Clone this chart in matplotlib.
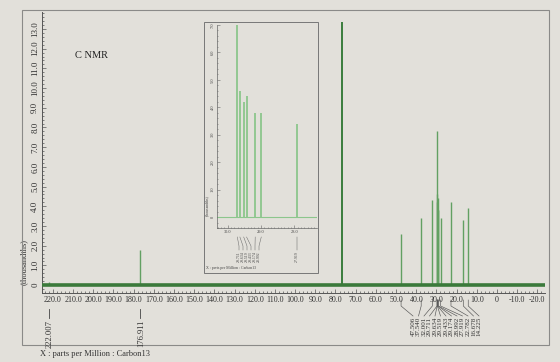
import numpy as np
import matplotlib
matplotlib.use("Agg")
import matplotlib.pyplot as plt
from matplotlib.ticker import MultipleLocator, FuncFormatter
from matplotlib.patches import Rectangle
from matplotlib.lines import Line2D

# peak list (ppm) and heights (thousandths)
ppm = [222.007, 176.911, 77.0, 47.506, 37.540, 32.001, 29.711, 29.634, 29.519,
       29.433, 29.174, 28.992, 27.919, 22.782, 16.678, 14.225]
height = [0.15, 1.8, 13.35, 2.6, 3.4, 4.3, 7.8, 4.6, 4.2,
          4.4, 3.8, 3.8, 3.4, 4.2, 3.3, 3.9]

left_labels = ["222.007", "176.911"]
right_labels = ["47.506", "37.540", "32.001", "29.711", "29.634", "29.519", "29.433",
                "29.174", "28.992", "27.919", "22.782", "16.678", "14.225"]
inset_labels = ["29.711", "29.634", "29.519", "29.433", "29.174", "28.992", "27.919"]

W, H = 560, 362
page = "#e2e0da"
serif = ["Liberation Serif", "DejaVu Serif"]
plt.rcParams['font.family'] = serif

fig = plt.figure(figsize=(W / 100, H / 100), dpi=100, facecolor=page)


def fx(x):
    return x / W


def fy(y):
    return 1 - y / H


# outer frame
fig.patches.append(Rectangle((fx(22), fy(345)), fx(549) - fx(22), fy(10) - fy(345),
                             transform=fig.transFigure, fill=False, ec="#8a8a88", lw=0.8))

ax = fig.add_axes([fx(42), fy(293), fx(545) - fx(42), fy(12) - fy(293)])
ax.set_facecolor(page)

ax.axhline(0, color="#3b7a3b", lw=2.6, zorder=3)
big = [i for i in range(len(ppm)) if height[i] > 10]
small = [i for i in range(len(ppm)) if height[i] <= 10]
ax.vlines([ppm[i] for i in small], 0, [height[i] for i in small], color="#62a062", lw=1.0)
ax.vlines([ppm[i] for i in big], 0, [height[i] for i in big], color="#3a7d3c", lw=1.4)

for s in ["top", "right"]:
    ax.spines[s].set_visible(False)
for s in ["left", "bottom"]:
    ax.spines[s].set_color("#555")
    ax.spines[s].set_linewidth(0.7)

ax.xaxis.set_major_locator(MultipleLocator(10))
ax.xaxis.set_minor_locator(MultipleLocator(2))
ax.yaxis.set_major_locator(MultipleLocator(1))
ax.yaxis.set_minor_locator(MultipleLocator(0.2))
fmt = FuncFormatter(lambda v, p: "0" if abs(v) < 1e-9 else f"{v:.1f}")
ax.xaxis.set_major_formatter(fmt)
ax.yaxis.set_major_formatter(fmt)
ax.tick_params(axis="both", which="both", direction="in", color="#555", width=0.5)
ax.tick_params(axis="both", which="major", length=3, labelcolor="#333", pad=2)
ax.tick_params(axis="x", which="major", labelsize=5.8)
ax.tick_params(axis="y", which="major", labelsize=6.5)
ax.tick_params(axis="both", which="minor", length=1.5)
ax.set_xlim(225.4, -23.8)
ax.set_ylim(-0.4, 13.86)
for t in ax.get_yticklabels():
    t.set_rotation(90)
    t.set_va("center")

ax.text(-0.037, 0.03, "(thousandths)", transform=ax.transAxes, rotation=90,
        fontsize=6, color="#333", ha="center", va="bottom")
fig.text(fx(75), fy(55), "C NMR", fontsize=7.5, color="#222", va="center")

fig.canvas.draw()


def xpix(v):
    return ax.transData.transform((v, 0))[0] / W


# left peak labels
for v, lab in zip(ppm[:2], left_labels):
    x = xpix(v)
    fig.lines.append(Line2D([x, x], [fy(309), fy(318)], transform=fig.transFigure,
                            color="#444", lw=0.6))
    fig.text(x + fx(1), fy(320), lab, rotation=90, fontsize=6.2, color="#333",
             ha="center", va="top")

fig.text(fx(40), fy(354), "X : parts per Million : Carbon13", fontsize=6,
         color="#333", va="center")

# right cluster labels with leader lines
rp = ppm[3:]
for k, (v, lab) in enumerate(zip(rp, right_labels)):
    x = xpix(v)
    xl = fx(413 + 5.5 * k)
    fig.lines.append(Line2D([x, x, xl], [fy(300), fy(306), fy(316)],
                            transform=fig.transFigure, color="#555", lw=0.45))
    fig.text(xl, fy(317), lab, rotation=90, fontsize=5.0, color="#333",
             ha="center", va="top")

# inset
fig.patches.append(Rectangle((fx(204), fy(273)), fx(318) - fx(204), fy(22) - fy(273),
                             transform=fig.transFigure, fill=False, ec="#777", lw=0.7))
axi = fig.add_axes([fx(217), fy(228), fx(317) - fx(217), fy(25) - fy(228)])
axi.set_facecolor(page)
ip = ppm[6:13]
ih = height[6:13]
axi.axhline(0, color="#8cc68c", lw=0.8)
axi.vlines(ip, 0, ih, color="#8cc68c", lw=1.3)
axi.xaxis.set_major_locator(MultipleLocator(1))
axi.xaxis.set_minor_locator(MultipleLocator(0.1))
axi.yaxis.set_major_locator(MultipleLocator(1))
axi.yaxis.set_minor_locator(MultipleLocator(0.2))
axi.xaxis.set_major_formatter(fmt)
axi.yaxis.set_major_formatter(fmt)
for s in ["top", "right"]:
    axi.spines[s].set_visible(False)
for s in ["left", "bottom"]:
    axi.spines[s].set_color("#666")
    axi.spines[s].set_linewidth(0.5)
axi.tick_params(axis="both", which="both", direction="in", color="#666", width=0.4)
axi.tick_params(axis="both", which="major", length=2, labelsize=3.2, labelcolor="#444", pad=1.5)
axi.tick_params(axis="both", which="minor", length=1)
axi.set_xlim(30.32, 27.32)
axi.set_ylim(-0.4, 7.0)
for t in axi.get_yticklabels():
    t.set_rotation(90)
    t.set_va("center")
axi.text(-0.1, 0.06, "(thousandths)", transform=axi.transAxes, rotation=90,
         fontsize=2.8, color="#444", ha="center", va="bottom")

fig.canvas.draw()
for k, (v, lab) in enumerate(zip(ip, inset_labels)):
    x = axi.transData.transform((v, 0))[0] / W
    xl = fx(239 + 4 * k) if k < 6 else x
    fig.lines.append(Line2D([x, xl, xl], [fy(237), fy(246), fy(250)],
                            transform=fig.transFigure, color="#666", lw=0.35))
    fig.text(xl, fy(251), lab, rotation=90, fontsize=2.8, color="#444",
             ha="center", va="top")
fig.text(fx(206), fy(268), "X : parts per Million : Carbon13", fontsize=2.8,
         color="#444", va="center")

fig.savefig("out.png", dpi=100, facecolor=page)
